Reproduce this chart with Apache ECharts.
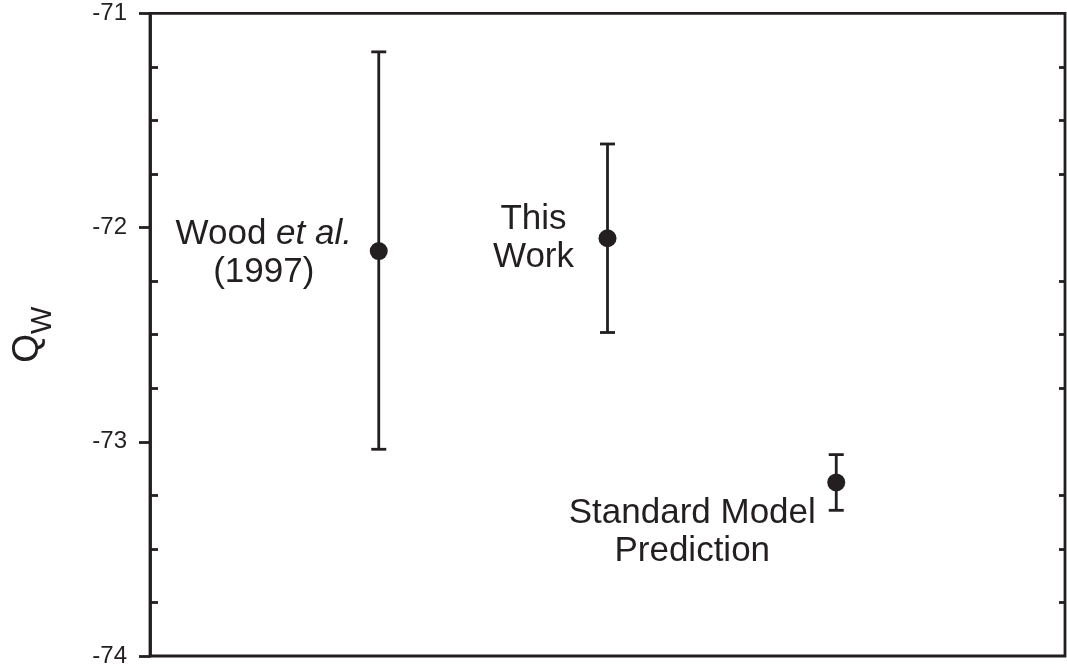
<!DOCTYPE html>
<html>
<head>
<meta charset="utf-8">
<title>Qw</title>
<script src="https://cdn.jsdelivr.net/npm/echarts@6/dist/echarts.min.js"></script>
<style>
  html, body { margin: 0; padding: 0; background: #fff; }
  #chart { width: 1067px; height: 671px; }
</style>
</head>
<body>
<div id="chart"></div>
<script>
// data
var names = ['Wood et al. (1997)', 'This Work', 'Standard Model Prediction'];
var xPos = [1, 2, 3];
var qwValue = [-72.11, -72.05, -73.19];
var qwHigh = [-71.18, -71.61, -73.06];
var qwLow = [-73.035, -72.49, -73.32];
var yTicks = [-74, -73, -72, -71];

var ink = '#231f20';
var font = 'Liberation Sans, Arial, Helvetica, sans-serif';

// label text + where it sits relative to its dot
var labelText = [
  '{n|Wood }{i|et al.}\n{n|(1997)}',
  '{n|This}\n{n|Work}',
  '{n|Standard Model}\n{n|Prediction}'
];
var labelShift = [[-115, 2], [-74, 0], [-144, 50]];

var pointData = [];
var barData = [];
for (var i = 0; i < names.length; i++) {
  pointData.push({
    name: names[i],
    value: [xPos[i], qwValue[i]],
    label: { formatter: labelText[i], offset: labelShift[i] }
  });
  barData.push([xPos[i], qwHigh[i], qwLow[i]]);
}

function renderErrorBar(params, api) {
  var x = api.value(0);
  var top = api.coord([x, api.value(1)]);
  var bot = api.coord([x, api.value(2)]);
  var half = 7.5;
  var st = { stroke: ink, lineWidth: 2.8 };
  return {
    type: 'group',
    children: [
      { type: 'line', shape: { x1: top[0], y1: top[1], x2: bot[0], y2: bot[1] }, style: st },
      { type: 'line', shape: { x1: top[0] - half, y1: top[1], x2: top[0] + half, y2: top[1] }, style: st },
      { type: 'line', shape: { x1: bot[0] - half, y1: bot[1], x2: bot[0] + half, y2: bot[1] }, style: st }
    ]
  };
}

var chart = echarts.init(document.getElementById('chart'));

var option = {
  animation: false,
  backgroundColor: '#fff',
  grid: {
    left: 150, right: 2, top: 13.3, bottom: 15,
    containLabel: false, outerBoundsMode: 'none',
    show: true, borderColor: ink, borderWidth: 2.8, backgroundColor: 'transparent'
  },
  xAxis: {
    type: 'value', min: 0, max: 4, show: false
  },
  yAxis: [
    {
      // left: labels + outward major ticks
      type: 'value', position: 'left',
      min: yTicks[0], max: yTicks[yTicks.length - 1], interval: 1,
      axisLine: { show: true, onZero: false, lineStyle: { color: ink, width: 2.8 } },
      axisTick: { show: true, inside: false, length: 11, lineStyle: { color: ink, width: 2.8 } },
      splitLine: { show: false },
      axisLabel: {
        color: ink, fontSize: 24, fontFamily: font, margin: 23,
        formatter: function (v) { return yTicks.indexOf(v) >= 0 ? String(v) : ''; }
      },
      name: '{q|Q}{w|W}',
      nameLocation: 'middle',
      nameRotate: 90,
      nameGap: 102,
      nameTextStyle: {
        color: ink, fontFamily: font,
        rich: {
          q: { fontSize: 37, lineHeight: 40, fontFamily: font, color: ink },
          w: { fontSize: 29, lineHeight: 40, fontFamily: font, color: ink, padding: [30, 0, 0, 0] }
        }
      }
    },
    {
      // left: inward minor ticks
      type: 'value', position: 'left',
      min: yTicks[0], max: yTicks[yTicks.length - 1], interval: 1,
      axisLine: { show: false, onZero: false },
      axisTick: { show: true, inside: true, length: 0 },
      minorTick: { show: true, splitNumber: 4, length: 8, lineStyle: { color: ink, width: 2.8 } },
      splitLine: { show: false },
      axisLabel: { show: false }
    },
    {
      // right: inward minor ticks only
      type: 'value', position: 'right',
      min: yTicks[0], max: yTicks[yTicks.length - 1], interval: 1,
      axisLine: { show: false, onZero: false },
      axisTick: { show: true, inside: true, length: 0 },
      minorTick: { show: true, splitNumber: 4, length: 6, lineStyle: { color: ink, width: 2.8 } },
      splitLine: { show: false },
      axisLabel: { show: false }
    }
  ],
  series: [
    {
      type: 'custom',
      renderItem: renderErrorBar,
      data: barData,
      encode: { x: 0, y: [1, 2] },
      z: 2
    },
    {
      type: 'scatter',
      data: pointData,
      symbol: 'circle',
      symbolSize: 18,
      itemStyle: { color: ink, opacity: 1 },
      z: 3,
      label: {
        show: true,
        position: 'inside',
        align: 'center',
        verticalAlign: 'middle',
        color: ink,
        fontFamily: font,
        rich: {
          n: { fontSize: 35, lineHeight: 38, fontFamily: font, color: ink },
          i: { fontSize: 35, lineHeight: 38, fontFamily: font, color: ink, fontStyle: 'italic' }
        }
      }
    }
  ]
};

chart.setOption(option);
</script>
</body>
</html>
